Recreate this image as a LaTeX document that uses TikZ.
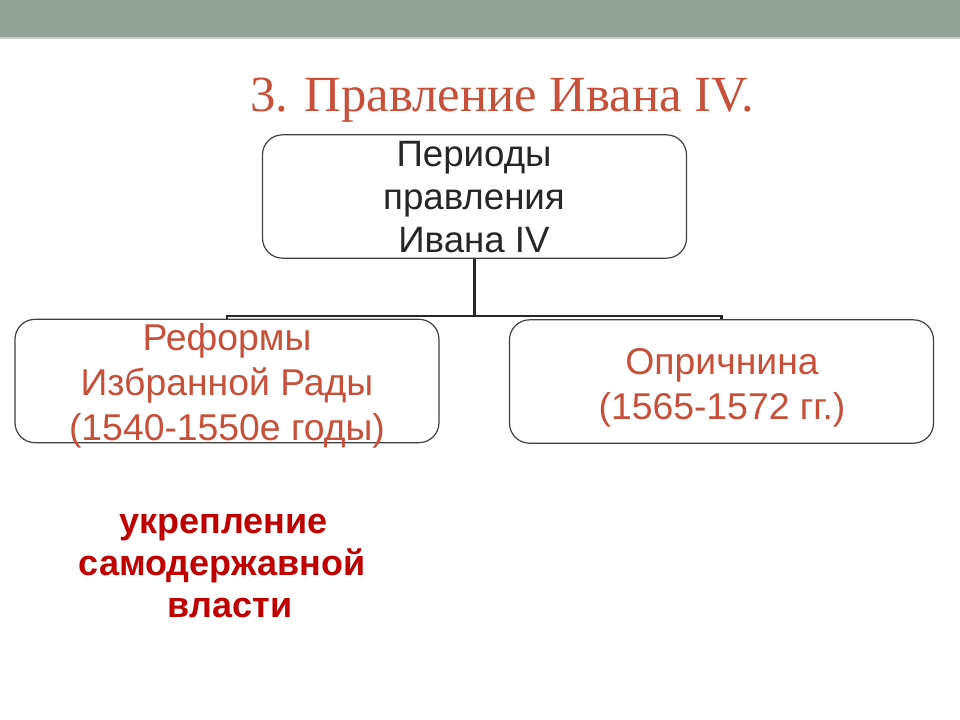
\documentclass[tikz,border=0pt]{standalone}
\usepackage{fontspec}
\setmainfont{Liberation Sans}
\newfontfamily\titlefont{Liberation Serif}
\usepackage{xcolor}
\usepackage{tikz}

\definecolor{barcolor}{RGB}{145,161,149}
\definecolor{barline}{RGB}{200,206,200}
\definecolor{titlered}{RGB}{199,80,58}
\definecolor{darkred}{RGB}{192,0,0}
\definecolor{textgray}{RGB}{38,38,38}
\definecolor{framegray}{RGB}{64,64,64}

\tikzset{
  periodbox/.style={draw=framegray, line width=0.9pt, rounded corners=15pt,
    minimum width=318pt, minimum height=92.5pt, inner sep=0pt},
  boxtext/.style={align=center, inner sep=0pt, font=\fontsize{28}{34}\selectfont},
  conn/.style={draw=textgray, line width=2.2pt},
}

\begin{document}
\begin{tikzpicture}[x=0.75pt, y=-0.75pt]
% Hintergrund
\fill[white] (0,0) rectangle (960,720);
\fill[barcolor] (0,0) rectangle (960,37);
\fill[barline] (0,37) rectangle (960,39);

% Titel
\node[anchor=base, inner sep=0pt, text=titlered,
  font=\titlefont\fontsize{38}{44}\selectfont] (title) at (502,112) {3. Правление Ивана IV.};

% Kästen
\node[periodbox] (periods) at (474.5,196.5) {};
\node[periodbox] (reforms) at (227,381) {};
\node[periodbox] (oprich) at (721.5,381.5) {};

% Texte in den Kästen
\node[boxtext, text=textgray, font=\fontsize{27.5}{32}\selectfont] (periodstext) at (474,197) {Периоды\\ правления\\ Ивана IV};
\node[boxtext, text=titlered] (reformstext) at (227,386) {Реформы\\ Избранной Рады\\ (1540-1550е годы)};
\node[boxtext, text=titlered] (oprichtext) at (722,388) {Опричнина\\ (1565-1572 гг.)};

% Verbindungen
\coordinate (fork) at (474.5,316);
\draw[conn] (periods.south) -- (fork);
\draw[conn] (reforms.north) -- (reforms.north |- fork) -- (oprich.north |- fork) -- (oprich.north);

% Ergebnis
\node[align=center, inner sep=0pt, text=darkred,
  font=\bfseries\fontsize{27}{31.5}\selectfont] (result) at (222,566) {\hspace*{2pt}укрепление\\ самодержавной\\ \hspace*{12pt}власти};
\end{tikzpicture}
\end{document}
